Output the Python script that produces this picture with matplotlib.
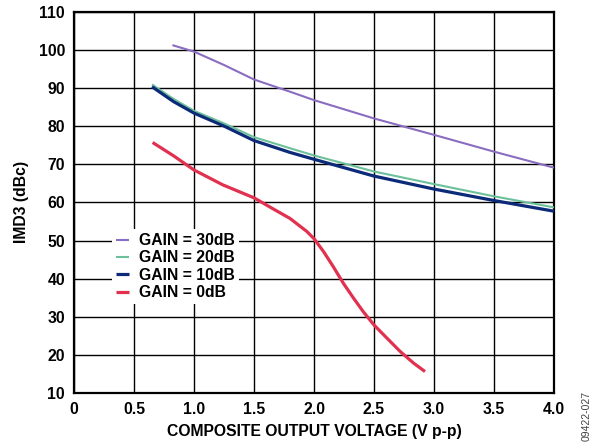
import numpy as np
import matplotlib
matplotlib.use('Agg')
import matplotlib.pyplot as plt

# curvas
x_g30 = [0.82, 1.0, 1.25, 1.5, 1.8, 2.0, 2.5, 3.0, 3.5, 4.0]
y_g30 = [101.2, 99.5, 96.0, 92.2, 89.0, 86.8, 82.0, 77.7, 73.3, 69.1]

x_g20 = [0.65, 0.83, 1.0, 1.25, 1.5, 1.8, 2.0, 2.5, 3.0, 3.5, 4.0]
y_g20 = [90.9, 87.1, 84.0, 80.7, 77.1, 74.2, 72.3, 68.1, 64.8, 61.6, 58.7]

x_g10 = [0.65, 0.83, 1.0, 1.25, 1.5, 1.8, 2.0, 2.5, 3.0, 3.5, 4.0]
y_g10 = [90.3, 86.4, 83.4, 80.0, 76.2, 73.1, 71.3, 66.9, 63.5, 60.5, 57.7]

x_g0 = [0.655, 0.83, 1.0, 1.24, 1.5, 1.66, 1.8, 1.94, 2.0, 2.08, 2.16, 2.245,
        2.33, 2.41, 2.5, 2.6, 2.72, 2.83, 2.925]
y_g0 = [75.7, 72.2, 68.5, 64.6, 61.2, 58.3, 55.8, 52.4, 50.5, 47.1, 43.2, 38.8,
        34.9, 31.4, 27.9, 24.7, 20.9, 17.9, 15.7]

etiquetas = ['GAIN = 30dB', 'GAIN = 20dB', 'GAIN = 10dB', 'GAIN = 0dB']
colores = ['#8a6cc0', '#6cc09a', '#0b2a78', '#e2304f']
anchos = [1.5, 1.5, 2.3, 2.3]

plt.rcParams['font.family'] = ['Liberation Sans', 'DejaVu Sans']
plt.rcParams['font.weight'] = 'bold'

fig = plt.figure(figsize=(5.96, 4.44), dpi=100)
ax = fig.add_axes([0.1242, 0.1142, 0.8053, 0.8598])

series = [(x_g30, y_g30), (x_g20, y_g20), (x_g10, y_g10), (x_g0, y_g0)]
for (xs, ys), lab, c, lw in zip(series, etiquetas, colores, anchos):
    ax.plot(xs, ys, color=c, lw=lw, label=lab, solid_capstyle='butt',
            solid_joinstyle='round', zorder=3)

ax.set_xlim(0, 4.0)
ax.set_ylim(10, 110)
ax.set_xticks(np.arange(0, 4.01, 0.5))
ax.set_xticklabels(['0', '0.5', '1.0', '1.5', '2.0', '2.5', '3.0', '3.5', '4.0'])
ax.set_yticks(np.arange(10, 111, 10))
ax.tick_params(axis='x', length=0, labelsize=11.3, pad=6)
ax.tick_params(axis='y', length=0, labelsize=11.3, pad=6.5)
ax.grid(True, color='black', lw=1.0)
for s in ax.spines.values():
    s.set_linewidth(1.6)

ax.set_xlabel('COMPOSITE OUTPUT VOLTAGE (V p-p)', fontsize=11.3, fontweight='bold', labelpad=5)
ax.set_ylabel('IMD3 (dBc)', fontsize=11.3, fontweight='bold', labelpad=7)

leg = ax.legend(loc='upper left', bbox_to_anchor=(0.079, 0.43), frameon=True,
                fancybox=False, framealpha=1, edgecolor='none', facecolor='white',
                fontsize=11.3, handlelength=0.85, handletextpad=0.64,
                labelspacing=0.15, borderpad=0.25, borderaxespad=0)
leg.set_zorder(4)

fig.text(0.984, 0.063, '09422-027', rotation=90, fontsize=7.5, fontweight='normal',
         color='#444444', ha='center', va='center')

fig.savefig('out.png', dpi=100)
